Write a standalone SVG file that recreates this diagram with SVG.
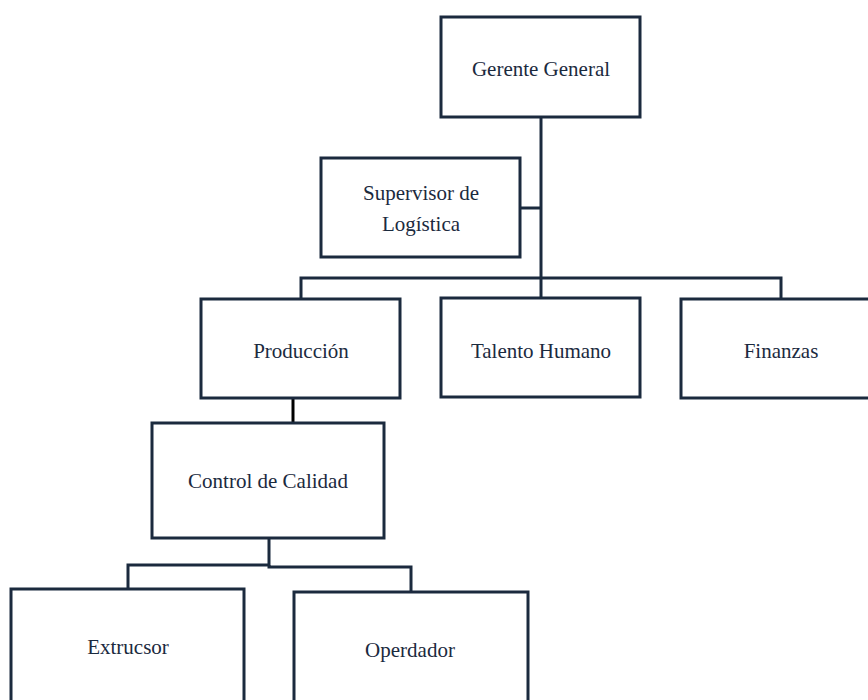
<svg xmlns="http://www.w3.org/2000/svg" width="868" height="700" viewBox="0 0 868 700">
<style>
.box{fill:#fff;stroke:#1b2a3e;stroke-width:3}
.ln{fill:none;stroke:#1b2a3e;stroke-width:3}
.t{font-family:'Liberation Serif','DejaVu Serif',serif;font-size:21px;fill:#1b2a3e;text-anchor:middle}
</style>
<rect width="868" height="700" fill="#fff"/>
<g id="connectors">
<path class="ln" d="M541 117 V298"/>
<path class="ln" d="M520 208 H541"/>
<path class="ln" d="M301 299 V278 H781 V299"/>
<path d="M293 398 V423" fill="none" stroke="#000" stroke-width="3"/>
<path class="ln" d="M269 538 V565 H128 V590"/>
<path class="ln" d="M269 565 V567 H411 V592"/>
</g>
<g id="gerente"><rect class="box" x="441" y="17" width="199" height="100"/><text class="t" x="541" y="76">Gerente General</text></g>
<g id="supervisor"><rect class="box" x="321" y="158" width="199" height="99"/><text class="t" x="421" y="200">Supervisor de</text><text class="t" x="421" y="231">Logística</text></g>
<g id="produccion"><rect class="box" x="201" y="299" width="199" height="99"/><text class="t" x="301" y="358">Producción</text></g>
<g id="talento"><rect class="box" x="441" y="298" width="199" height="99"/><text class="t" x="541" y="358">Talento Humano</text></g>
<g id="finanzas"><rect class="box" x="681" y="299" width="199" height="99"/><text class="t" x="781" y="358">Finanzas</text></g>
<g id="calidad"><rect class="box" x="152" y="423" width="232" height="115"/><text class="t" x="268" y="488">Control de Calidad</text></g>
<g id="extrucsor"><rect class="box" x="11" y="589" width="233" height="130"/><text class="t" x="128" y="654">Extrucsor</text></g>
<g id="operdador"><rect class="box" x="294" y="592" width="234" height="130"/><text class="t" x="410" y="657">Operdador</text></g>
</svg>
